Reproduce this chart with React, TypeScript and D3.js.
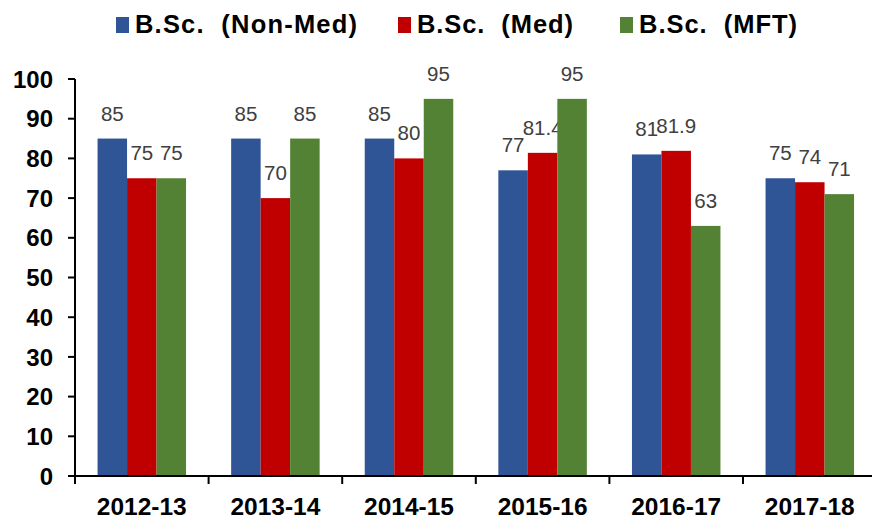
import React from "react";
import * as d3 from "d3";

const categories = ["2012-13", "2013-14", "2014-15", "2015-16", "2016-17", "2017-18"];
const seriesNames = ["B.Sc.  (Non-Med)", "B.Sc.  (Med)", "B.Sc.  (MFT)"];
const nonMed = [85, 85, 85, 77, 81, 75];
const med = [75, 70, 80, 81.4, 81.9, 74];
const mft = [75, 85, 95, 95, 63, 71];
const seriesValues = [nonMed, med, mft];
const colors = ["#2F5597", "#C00000", "#548235"];
const yTicks = [0, 10, 20, 30, 40, 50, 60, 70, 80, 90, 100];

const W = 872;
const H = 519;

export default function App() {
  const x = d3.scaleBand<string>().domain(categories).range([75, 75 + 133.6 * 6]).paddingInner(0).paddingOuter(0);
  const inner = d3.scaleBand<number>().domain([0, 1, 2]).range([0, 88.5]);
  const groupOffset = (x.bandwidth() - 88.5) / 2;
  const y = d3.scaleLinear().domain([0, 100]).range([476, 79]);

  const legendX = [116, 398, 620];
  const legendLen = [222, 156, 158];

  return (
    <svg width={W} height={H} style={{ position: "absolute", left: 0, top: 0, background: "#fff" }}
      fontFamily="'Liberation Sans', Arial, sans-serif">
      {/* legend */}
      {seriesNames.map((name, i) => (
        <g key={name}>
          <rect x={legendX[i]} y={17} width={13} height={16} fill={colors[i]} />
          <text x={legendX[i] + 19} y={33} fontSize={25.5} fontWeight="bold" fill="#000"
            textLength={legendLen[i]} lengthAdjust="spacing" style={{ whiteSpace: "pre" }}>
            {name}
          </text>
        </g>
      ))}

      {/* bars */}
      {categories.map((c, ci) => (
        <g key={c}>
          {seriesValues.map((vals, si) => {
            const bx = (x(c) as number) + groupOffset + (inner(si) as number);
            const v = vals[ci];
            return (
              <g key={si}>
                <rect x={bx} y={y(v)} width={inner.bandwidth()} height={y(0) - y(v)} fill={colors[si]} />
                <text x={bx + inner.bandwidth() / 2} y={y(v) - 18} textAnchor="middle" fontSize={20.5} fill="#404040">
                  {String(v)}
                </text>
              </g>
            );
          })}
        </g>
      ))}

      {/* y axis */}
      <line x1={75} x2={75} y1={y(100)} y2={y(0)} stroke="#000" strokeWidth={2} />
      {yTicks.map((t) => (
        <g key={t}>
          <line x1={68} x2={75} y1={y(t)} y2={y(t)} stroke="#000" strokeWidth={2} />
          <text x={53} y={y(t)} dy="0.36em" textAnchor="end" fontSize={24} fontWeight="bold" fill="#000">
            {t}
          </text>
        </g>
      ))}

      {/* x axis */}
      <line x1={68} x2={W} y1={y(0)} y2={y(0)} stroke="#000" strokeWidth={2} />
      {categories.map((c) => (
        <line key={"t" + c} x1={(x(c) as number)} x2={(x(c) as number)} y1={y(0)} y2={y(0) + 8} stroke="#000" strokeWidth={2} />
      ))}
      {categories.map((c) => (
        <text key={"l" + c} x={(x(c) as number) + x.bandwidth() / 2} y={515} textAnchor="middle" fontSize={24.5} fontWeight="bold" fill="#000">
          {c}
        </text>
      ))}
    </svg>
  );
}
